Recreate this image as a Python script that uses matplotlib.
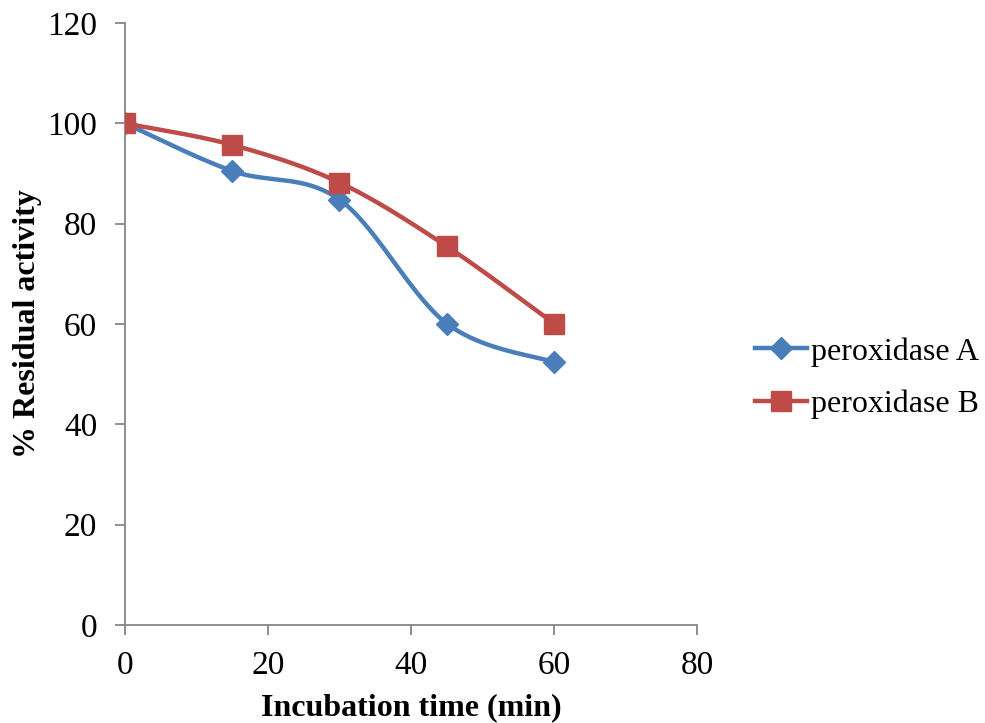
import numpy as np
import matplotlib
matplotlib.use("Agg")
import matplotlib.pyplot as plt
from matplotlib.lines import Line2D

plt.rcParams['font.family'] = ['Liberation Serif', 'DejaVu Serif']

# Incubation time (min) and residual activity (%)
time_min = [0, 15, 30, 45, 60]
activity_a = [100, 90.5, 84.8, 60.1, 52.4]
activity_b = [100, 95.7, 88.2, 75.5, 60.1]

BLUE = '#4a7ebb'
RED = '#be4b48'
GRAY = '#868686'


def smooth_curve(x, y, n=40):
    """Catmull-Rom style bezier smoothing, like spreadsheet 'smoothed lines'."""
    x = np.asarray(x, float)
    y = np.asarray(y, float)
    px = np.concatenate([[x[0]], x, [x[-1]]])
    py = np.concatenate([[y[0]], y, [y[-1]]])
    xs, ys = [], []
    t = np.linspace(0, 1, n)
    for i in range(1, len(px) - 2):
        p0 = np.array([px[i], py[i]])
        p3 = np.array([px[i + 1], py[i + 1]])
        c1 = p0 + (np.array([px[i + 1], py[i + 1]]) - np.array([px[i - 1], py[i - 1]])) / 6
        c2 = p3 - (np.array([px[i + 2], py[i + 2]]) - np.array([px[i], py[i]])) / 6
        b = ((1 - t) ** 3)[:, None] * p0 + (3 * (1 - t) ** 2 * t)[:, None] * c1 \
            + (3 * (1 - t) * t ** 2)[:, None] * c2 + (t ** 3)[:, None] * p3
        xs.extend(b[:, 0])
        ys.extend(b[:, 1])
    return np.array(xs), np.array(ys)


fig = plt.figure(figsize=(9.85, 7.23), dpi=100)
ax = fig.add_axes([0.1269, 0.1355, 0.5807, 0.8327])

sx, sy = smooth_curve(time_min, activity_a)
ax.plot(sx, sy, color=BLUE, lw=3.2, solid_capstyle='round', zorder=2)
ax.plot(time_min, activity_a, 'D', color=BLUE, markersize=11.5, zorder=3)

sx, sy = smooth_curve(time_min, activity_b)
ax.plot(sx, sy, color=RED, lw=3.2, solid_capstyle='round', zorder=2)
ax.plot(time_min, activity_b, 's', color=RED, markersize=14, zorder=4)

ax.set_xlim(0, 80)
ax.set_ylim(0, 120)
ax.set_xticks([0, 20, 40, 60, 80])
ax.set_yticks([0, 20, 40, 60, 80, 100, 120])

for side in ['top', 'right']:
    ax.spines[side].set_visible(False)
for side in ['left', 'bottom']:
    ax.spines[side].set_color(GRAY)
    ax.spines[side].set_linewidth(1.3)
ax.spines['left'].set_zorder(1)
ax.tick_params(direction='out', length=7, width=1.3, color=GRAY,
               labelsize=24, labelcolor='black')
ax.tick_params(axis='y', pad=13)
ax.tick_params(axis='x', pad=11)

ax.set_xlabel('Incubation time (min)', fontsize=23, fontweight='bold', labelpad=9)
ax.set_ylabel('% Residual activity', fontsize=23, fontweight='bold', labelpad=4)

handles = [
    Line2D([], [], color=BLUE, lw=3.2, marker='D', markersize=11.5),
    Line2D([], [], color=RED, lw=3.2, marker='s', markersize=14),
]
fig.legend(handles, ['peroxidase A', 'peroxidase B'], loc='center left',
           bbox_to_anchor=(0.766, 0.477), frameon=False, fontsize=23,
           borderpad=0, borderaxespad=0,
           handlelength=1.65, handletextpad=0.12, labelspacing=0.72)

plt.savefig('out.png', dpi=100)
